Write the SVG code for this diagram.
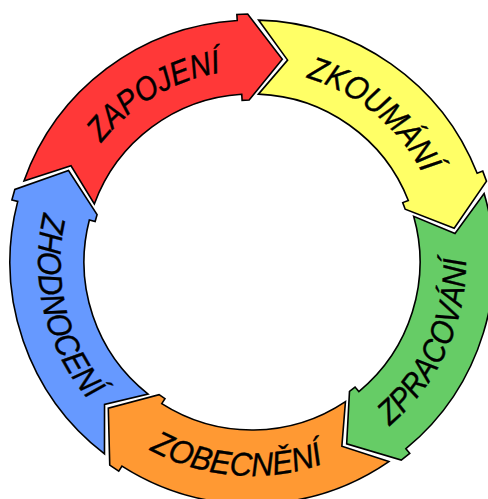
<svg xmlns="http://www.w3.org/2000/svg" width="488" height="499" viewBox="0 0 488 499">
  <style>
    .arrow { stroke: #000; stroke-width: 1.6; stroke-linejoin: miter; }
    .label { font-family: "Liberation Sans", Arial, sans-serif; font-size: 33px; font-style: italic; fill: #000; stroke: #000; stroke-width: 0.4; }
  </style>
  <defs>
    <!-- One curved arrow of the cycle, drawn around the ring centre with its tip at angle 0.
         Ring: outer radius 242, inner radius 168, barbs 6 px beyond both edges.
         The tail is notched to fit the head of the arrow before it. -->
    <path id="seg" d="M46.42,-237.51 A242,242 0 0 1 236.71,-50.31 L242.58,-51.56 L244.60,-40.93 L205,0 L159.78,-26.74 L158.46,-33.68 L164.33,-34.93 A168,168 0 0 0 34.07,-164.51 L68.43,-193.24 Z"/>
    <!-- label baselines: clockwise arcs on top, counter-clockwise arcs elsewhere -->
    <path id="tp-zapojeni" d="M60.01,263.68 A192,192 0 0 1 346.55,94.89"/>
    <path id="tp-zkoumani" d="M184.76,82.16 A192,192 0 0 1 441.37,293.69"/>
    <path id="tp-zpracovani" d="M272.51,475.01 A214,214 0 0 0 426.22,137.73"/>
    <path id="tp-zobecneni" d="M58.85,354.13 A214,214 0 0 0 428.36,383.21"/>
    <path id="tp-zhodnoceni" d="M104.69,106.77 A214,214 0 0 0 191.22,467.19"/>
  </defs>

  <rect width="488" height="499" fill="#fff"/>

  <g id="zapojeni">
    <use href="#seg" class="arrow" fill="#FF3838" transform="translate(252 262) rotate(278.5)"/>
    <text class="label"><textPath href="#tp-zapojeni" startOffset="50%" text-anchor="middle" textLength="142" lengthAdjust="spacingAndGlyphs">ZAPOJENÍ</textPath></text>
  </g>

  <g id="zkoumani">
    <use href="#seg" class="arrow" fill="#FFFF66" transform="translate(252 262) rotate(350.5)"/>
    <text class="label"><textPath href="#tp-zkoumani" startOffset="50%" text-anchor="middle" textLength="155" lengthAdjust="spacingAndGlyphs">ZKOUMÁNÍ</textPath></text>
  </g>

  <g id="zpracovani">
    <use href="#seg" class="arrow" fill="#66CC66" transform="translate(252 262) rotate(62.5)"/>
    <text class="label"><textPath href="#tp-zpracovani" startOffset="50%" text-anchor="middle" textLength="190" lengthAdjust="spacingAndGlyphs">ZPRACOVÁNÍ</textPath></text>
  </g>

  <g id="zobecneni">
    <use href="#seg" class="arrow" fill="#FF9933" transform="translate(252 262) rotate(134.5)"/>
    <text class="label"><textPath href="#tp-zobecneni" startOffset="50%" text-anchor="middle" textLength="180" lengthAdjust="spacingAndGlyphs">ZOBECNĚNÍ</textPath></text>
  </g>

  <g id="zhodnoceni">
    <use href="#seg" class="arrow" fill="#6699FF" transform="translate(252 262) rotate(206.5)"/>
    <text class="label"><textPath href="#tp-zhodnoceni" startOffset="50%" text-anchor="middle" textLength="200" lengthAdjust="spacingAndGlyphs">ZHODNOCENÍ</textPath></text>
  </g>

  <g id="connectors"/>
</svg>
